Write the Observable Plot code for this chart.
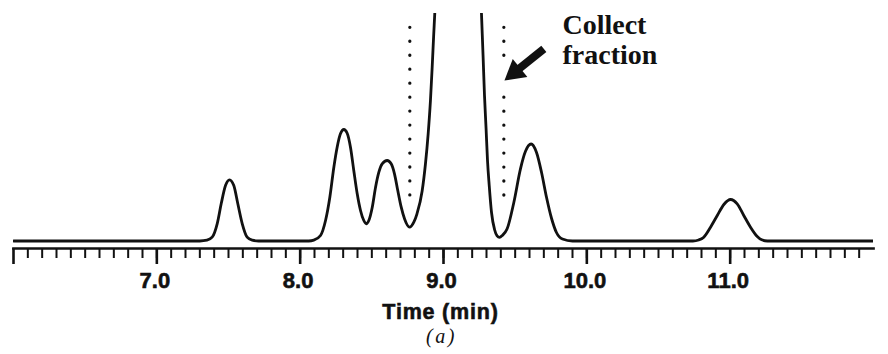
<!DOCTYPE html>
<html>
<head>
<meta charset="utf-8">
<script src="https://cdn.jsdelivr.net/npm/d3@7"></script>
<script src="https://cdn.jsdelivr.net/npm/@observablehq/plot@0.6"></script>
<style>
  html, body { margin: 0; padding: 0; background: #fff; }
  svg { display: block; }
</style>
</head>
<body>
<div id="chart"></div>
<script>
// Retention time (min) of each sampled point of the trace
const time = [
  6.00, 7.30, 7.35, 7.386, 7.421, 7.449, 7.479, 7.507, 7.537, 7.565, 7.596, 7.630, 7.665, 7.71,
  8.06, 8.095, 8.142, 8.177, 8.207, 8.235, 8.258, 8.281, 8.305, 8.328, 8.351, 8.374, 8.398, 8.421,
  8.444, 8.461, 8.479, 8.503, 8.526, 8.549, 8.572, 8.607, 8.635, 8.658, 8.681, 8.705, 8.728, 8.763,
  8.793, 8.815, 8.851, 8.874, 8.893, 8.909, 8.921, 8.932, 8.939, 8.946, 8.97, 9.10, 9.24, 9.258,
  9.265, 9.276, 9.286, 9.297, 9.307, 9.319, 9.335, 9.356, 9.374, 9.391, 9.410, 9.444, 9.491, 9.537,
  9.572, 9.611, 9.649, 9.684, 9.719, 9.754, 9.788, 9.830, 9.90,
  10.74, 10.78, 10.816, 10.863, 10.910, 10.956, 11.003, 11.049, 11.095, 11.142, 11.189, 11.22, 11.26, 12.00
];
// Detector signal (arbitrary units) at those times; main peak runs off scale
const signal = [
  0, 0, 0.8, 3.8, 17.2, 37.2, 55.5, 61.2, 55.5, 37.2, 17.2, 3.8, 0.8, 0,
  0, 0.8, 5.5, 20.5, 43.8, 73.8, 93.8, 107.2, 111.5, 107.8, 93.8, 70.5, 47.2, 30.5,
  20.5, 17.2, 20.5, 33.8, 53.8, 68.8, 77.2, 80.5, 77.2, 67.2, 50.5, 33.8, 22.2, 13.8,
  18.8, 27.2, 50, 77, 107.2, 140.5, 173.8, 207.2, 227.2, 250, 340, 700, 340, 255,
  227.2, 185.5, 145.5, 112.5, 80.5, 55.5, 28.5, 11.5, 5.2, 3.7, 5.5, 12.2, 38.8, 72.2,
  89.7, 97, 88.5, 68.5, 43.5, 22.5, 8.5, 2, 0,
  0, 1, 3.8, 13.8, 25.5, 36.5, 41.5, 37.2, 25.5, 13.8, 4.5, 1.2, 0, 0
];

// Axis ticks
const majorTicks = [6, 7, 8, 9, 10, 11];
const labelTicks = [7, 8, 9, 10, 11];
const minorTicks = d3.range(61, 120).map(d => d / 10);

// Fraction-collection cut lines (time, top and bottom of dotted marker in signal units)
const cutTimes   = [8.765, 9.421, 9.421];
const cutTops    = [213.2, 213.2, 143.3];
const cutBottoms = [44.5, 184.5, 44.5];

// Annotation arrow and label
const arrowTail = {t: 9.700, h: 192.2};
const arrowTip  = {t: 9.426, h: 160.5};
const noteText  = ["Collect\nfraction"];
const notePos   = {t: 9.83, h: 177.2};

const xLabel = "Time (min)";
const caption = "(a)";

const trace = time.map((t, i) => ({t, h: signal[i]}));
const cuts = cutTimes.map((t, i) => ({t, top: cutTops[i], bottom: cutBottoms[i]}));
const arrow = [{t1: arrowTail.t, h1: arrowTail.h, t2: arrowTip.t, h2: arrowTip.h}];
const note = noteText.map(label => ({...notePos, label}));

const ink = "#111";
const tickFmt = d3.format(".1f");

const chart = Plot.plot({
  width: 888,
  height: 354,
  marginLeft: 13,
  marginRight: 15,
  marginTop: 13,
  marginBottom: 106,
  x: {domain: [6, 12]},
  y: {domain: [0, 227.5], range: [240.5, 13], axis: null},
  style: {fontFamily: "'Liberation Sans', Arial, sans-serif", background: "white", color: ink},
  marks: [
    Plot.frame({anchor: "bottom", stroke: ink, strokeWidth: 2.7}),
    Plot.axisX({ticks: minorTicks, tickSize: 10, strokeWidth: 2, tickFormat: () => "", label: null}),
    Plot.axisX({ticks: majorTicks, tickSize: 16, strokeWidth: 2.6, tickFormat: () => "", label: null}),
    Plot.axisX({ticks: labelTicks, tickSize: 0, tickPadding: 23.4, tickFormat: tickFmt,
                fontSize: 22, fontWeight: "bold", dx: -2, label: null}),
    Plot.line(trace, {x: "t", y: "h", curve: "monotone-x", stroke: ink, strokeWidth: 2.8, clip: true}),
    Plot.ruleX(cuts, {x: "t", y1: "top", y2: "bottom", stroke: ink, strokeWidth: 3.3,
                      strokeLinecap: "round", strokeDasharray: "0 13.97"}),
    Plot.arrow(arrow, {x1: "t1", y1: "h1", x2: "t2", y2: "h2", headLength: 0, insetEnd: 10,
                       strokeWidth: 8, stroke: ink, strokeLinecap: "butt"}),
    Plot.dot([arrowTip], {x: "t", y: "h", symbol: "triangle", r: 8.6, fill: ink,
                          rotate: 231, dx: 10.3, dy: -8.4}),
    Plot.text(note, {x: "t", y: "h", text: "label", textAnchor: "start", lineAnchor: "bottom",
                     lineHeight: 1.07, fontFamily: "'Liberation Serif', 'Times New Roman', serif",
                     fontWeight: "bold", fontSize: 28, fill: ink}),
    Plot.text([xLabel], {frameAnchor: "bottom", text: d => d, dy: 70.3, dx: -3, lineAnchor: "bottom",
                         fontSize: 21.5, fontWeight: "bold", fill: ink}),
    Plot.text([caption], {frameAnchor: "bottom", text: d => d, dy: 94.5, dx: -2, lineAnchor: "bottom",
                          fontFamily: "'Liberation Serif', 'Times New Roman', serif",
                          fontStyle: "italic", fontSize: 20, fill: ink})
  ]
});

const tickTexts = new Set(labelTicks.map(tickFmt));
d3.select(chart).selectAll("text")
  .filter(function() { return this.textContent === xLabel || tickTexts.has(this.textContent); })
  .attr("stroke", ink)
  .attr("stroke-width", 0.6)
  .attr("paint-order", "fill");
d3.select(chart).selectAll("text")
  .filter(function() { return this.textContent === xLabel; })
  .attr("letter-spacing", "0.8");
d3.select(chart).selectAll("text")
  .filter(function() { return this.textContent === caption; })
  .attr("letter-spacing", "2.5");

document.getElementById("chart").appendChild(chart);
</script>
</body>
</html>
